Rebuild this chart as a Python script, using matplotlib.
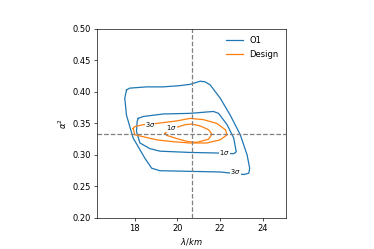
import numpy as np
import matplotlib
matplotlib.use("Agg")
import matplotlib.pyplot as plt

# contour outlines (lambda in km, alpha^2)
o1_3s_x = [17.61, 17.76, 18.55, 19.33, 20.12, 20.59, 21.07, 21.30, 21.54, 22.01, 22.48, 22.95,
           23.27, 23.39, 23.35, 23.11, 22.01, 20.59, 19.18, 18.79, 18.47, 17.92, 17.61, 17.53, 17.61]
o1_3s_y = [0.403, 0.406, 0.408, 0.408, 0.410, 0.412, 0.417, 0.416, 0.411, 0.390, 0.363, 0.332,
           0.300, 0.279, 0.271, 0.269, 0.273, 0.274, 0.275, 0.279, 0.295, 0.327, 0.363, 0.390, 0.403]

o1_1s_x = [18.16, 18.39, 19.33, 20.59, 21.69, 21.93, 22.33, 22.64, 22.76, 22.64, 22.01,
           20.59, 19.18, 18.71, 18.24, 18.08, 18.11, 18.16]
o1_1s_y = [0.358, 0.361, 0.365, 0.366, 0.369, 0.366, 0.348, 0.327, 0.305, 0.302, 0.303,
           0.304, 0.306, 0.310, 0.319, 0.337, 0.353, 0.358]

des_3s_x = [17.92, 18.00, 18.39, 19.02, 19.81, 20.59, 21.38, 22.01, 22.33, 22.25, 21.85,
            21.22, 20.59, 19.97, 19.02, 18.39, 18.00, 17.92]
des_3s_y = [0.342, 0.332, 0.329, 0.324, 0.321, 0.319, 0.319, 0.324, 0.332, 0.340, 0.350,
            0.356, 0.358, 0.354, 0.350, 0.348, 0.345, 0.342]

des_1s_x = [19.42, 19.57, 19.97, 20.36, 20.67, 21.07, 21.46, 21.62, 21.46, 20.91, 20.52,
            19.97, 19.50, 19.42]
des_1s_y = [0.334, 0.340, 0.344, 0.348, 0.349, 0.346, 0.340, 0.333, 0.325, 0.320, 0.321,
            0.326, 0.331, 0.334]

lam_true = 20.68
alpha_true = 0.333

# contour labels
lab_txt = ["3$\\sigma$", "1$\\sigma$", "1$\\sigma$", "3$\\sigma$"]
lab_x = [18.71, 19.73, 22.22, 22.72]
lab_y = [0.348, 0.343, 0.304, 0.273]

fig = plt.figure(figsize=(374 / 60, 249 / 60), dpi=60)
ax = fig.add_axes([0.259, 0.1245, 0.506, 0.7595])

ax.plot(o1_3s_x, o1_3s_y, color='C0', label='O1')
ax.plot(o1_1s_x, o1_1s_y, color='C0')
ax.plot(des_3s_x, des_3s_y, color='C1', label='Design')
ax.plot(des_1s_x, des_1s_y, color='C1')

ax.axvline(lam_true, color='gray', ls='--')
ax.axhline(alpha_true, color='gray', ls='--')

for t, x, y in zip(lab_txt, lab_x, lab_y):
    ax.text(x, y, t, fontsize=8, ha='center', va='center',
            bbox=dict(facecolor='white', edgecolor='none', pad=0))

ax.set_xlim(16.22, 25.1)
ax.set_ylim(0.2, 0.5)
ax.set_xticks([18, 20, 22, 24])
ax.set_xlabel('$\\lambda/km$')
ax.set_ylabel('$\\alpha^2$')
ax.legend(loc='upper right', frameon=False)

fig.savefig('out.png', dpi=60)
